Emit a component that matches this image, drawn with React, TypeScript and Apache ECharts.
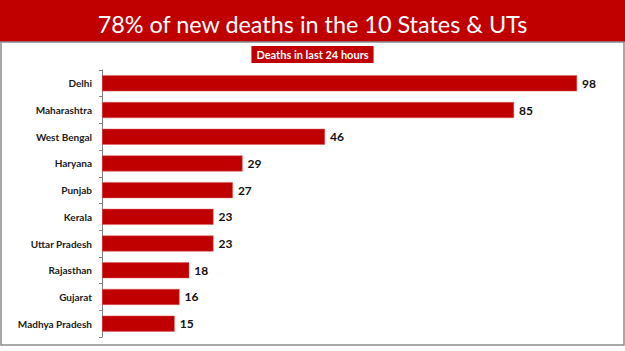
import React, { useEffect, useRef } from "react";
import * as echarts from "echarts";

const categories = [
  "Delhi",
  "Maharashtra",
  "West Bengal",
  "Haryana",
  "Punjab",
  "Kerala",
  "Uttar Pradesh",
  "Rajasthan",
  "Gujarat",
  "Madhya Pradesh",
];
const deaths = [98, 85, 46, 29, 27, 23, 23, 18, 16, 15];
const titleText = "78% of new deaths in the 10 States & UTs";
const subtitleText = "Deaths in last 24 hours";

const RED = "#C00000";

export default function App() {
  const ref = useRef<HTMLDivElement>(null);
  useEffect(() => {
    if (!ref.current) return;
    const chart = echarts.init(ref.current, null, { renderer: "svg" });
    chart.setOption({
      animation: false,
      backgroundColor: "#ffffff",
      title: [
        {
          text: titleText,
          left: "center",
          top: 7,
          textStyle: {
            color: "#ffffff",
            fontFamily: "Lato",
            fontWeight: "normal",
            fontSize: 23.4,
          },
        },
        {
          text: subtitleText,
          left: "center",
          top: 46,
          backgroundColor: RED,
          padding: [3, 5, 3, 5],
          textStyle: {
            color: "#ffffff",
            fontFamily: "Lato",
            fontWeight: "bold",
            fontSize: 11,
            lineHeight: 11,
          },
        },
      ],
      graphic: [
        {
          type: "rect",
          z: -1,
          shape: { x: 0, y: 0, width: 625, height: 42 },
          style: { fill: RED },
          silent: true,
        },
        {
          type: "rect",
          z: -1,
          shape: { x: 1, y: 42, width: 623, height: 303 },
          style: { fill: "none", stroke: "#8c8c8c", lineWidth: 1.5 },
          silent: true,
        },
      ],
      grid: { left: 102, top: 70, width: 509, height: 267, containLabel: false },
      xAxis: {
        type: "value",
        min: 0,
        max: 105,
        show: false,
      },
      yAxis: {
        type: "category",
        inverse: true,
        data: categories,
        axisLine: { show: true, lineStyle: { color: "#808080", width: 1 } },
        axisTick: { show: true, length: 3, inside: false, lineStyle: { color: "#808080" } },
        axisLabel: {
          color: "#1a1a1a",
          fontFamily: "Lato",
          fontWeight: "bold",
          fontSize: 10,
          margin: 10,
        },
      },
      series: [
        {
          type: "bar",
          data: deaths,
          barWidth: 16,
          itemStyle: { color: RED, borderColor: "#e06060", borderWidth: 0.5 },
          label: {
            show: true,
            position: "right",
            distance: 5,
            color: "#111111",
            fontFamily: "Lato",
            fontWeight: "bold",
            fontSize: 12,
          },
        },
      ],
    });
    return () => chart.dispose();
  }, []);
  return (
    <div
      ref={ref}
      style={{ position: "fixed", left: 0, top: 0, width: 625, height: 351 }}
    />
  );
}
